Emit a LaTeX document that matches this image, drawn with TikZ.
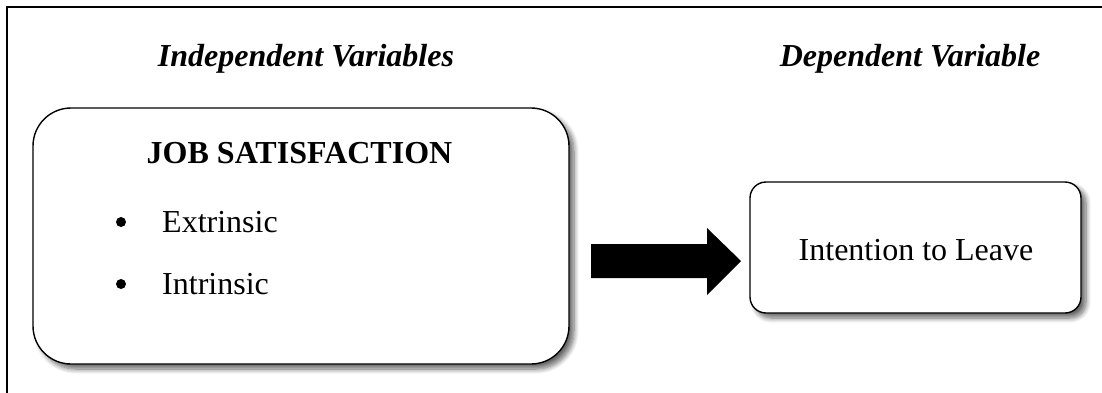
\documentclass[tikz,border=0pt]{standalone}
\usepackage{fontspec}
\setmainfont{Liberation Serif}
\usetikzlibrary{shadows,shadows.blur}
\begin{document}
\begin{tikzpicture}[x=1pt,y=-1pt,
  bigtext/.style={font=\fontsize{32}{38}\selectfont, inner sep=0pt},
  headtext/.style={bigtext, font=\fontsize{32}{38}\selectfont\bfseries\itshape},
  bulletdot/.style={circle, fill=black, inner sep=0pt, minimum size=10pt},
  varbox/.style={draw=black, line width=1.4pt, fill=white,
    blur shadow={shadow xshift=5pt, shadow yshift=-5pt, shadow blur steps=8, shadow blur radius=5pt, shadow blur extra rounding=3pt, shadow opacity=60}},
]
\useasboundingbox (0,0) rectangle (1102,392);
\begin{scope}
\clip (0,0) rectangle (1102,392);
\draw[line width=2pt] (7,7) rectangle (1120,410);
\end{scope}

\node[headtext, anchor=base] (iv) at (306,66) {Independent Variables};
\node[headtext, anchor=base] (dv) at (910,66) {Dependent Variable};

\node[varbox, rounded corners=38pt, minimum width=536pt, minimum height=256pt] (L) at (301,236) {};
\node[varbox, rounded corners=16pt, minimum width=331pt, minimum height=131pt] (R) at (915.5,247.5) {};

\node[bigtext, font=\fontsize{32}{38}\selectfont\bfseries, anchor=base] (js) at (299.5,163) {JOB SATISFACTION};
\node[bulletdot] (b1) at (121,222) {};
\node[bigtext, anchor=base west] (ex) at (162,232) {Extrinsic};
\node[bulletdot] (b2) at (121,284) {};
\node[bigtext, anchor=base west] (in) at (162,294) {Intrinsic};
\node[bigtext, anchor=base] (itl) at (916,260) {Intention to Leave};

\coordinate (as) at (591,261);
\fill[black] (as) ++(0,-17) -- ++(116,0) -- ++(0,-16) -- (741,261) -- (707,295) -- ++(0,-17) -- ++(-116,0) -- cycle;
\end{tikzpicture}
\end{document}
